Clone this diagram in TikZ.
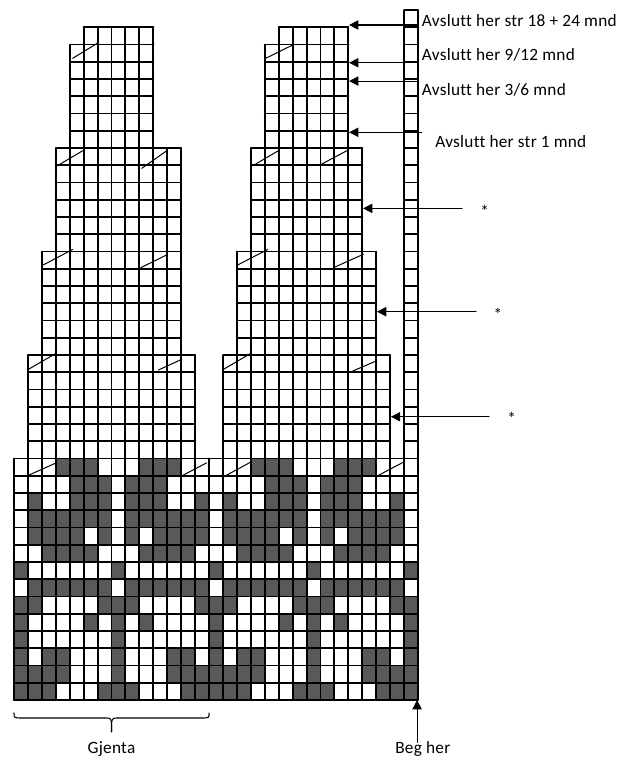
\documentclass[tikz,border=0pt]{standalone}
\usepackage{fontspec}
\setmainfont{Carlito}[Ligatures=NoCommon,LetterSpace=1.5]
\usetikzlibrary{arrows.meta}
\definecolor{strikkmork}{gray}{0.35}
\tikzset{
	rute/.style={line width=1.45pt},
	felling/.style={line width=0.75pt},
	pil/.style={line width=0.8pt,-{Triangle[length=7pt,width=7pt]}},
	tekst/.style={anchor=base west,inner sep=0pt},
}

\begin{document}
\begin{tikzpicture}[xscale=0.3686, yscale=0.4564, font=\fontsize{13}{15}\selectfont, line join=round, line cap=round]
	\useasboundingbox (-1.005,-3.36) rectangle (43.86,40.58);
	\begin{scope}
		\clip (0,0) rectangle (29,14);
		\foreach \y/\cols in {13/{3,4,5,9,10,11}, 12/{4,5,6,8,9,10}, 11/{1,4,5,6,8,9,10,13},
			10/{1,2,3,4,5,6,8,9,10,11,12,13}, 9/{1,2,3,4,6,8,10,11,12,13}, 8/{2,3,4,5,9,10,11,12},
			7/{0,7}, 6/{1,2,3,4,5,6,8,9,10,11,12,13}, 5/{0,1,6,7,8,13}, 4/{0,5,7,9},
			3/{0,7}, 2/{0,2,3,7,11,12}, 1/{0,1,2,3,7,11,12,13}, 0/{0,1,2,6,7,8,12,13}}
			\foreach \c in \cols
				\foreach \k in {0,14,28}
					\fill[strikkmork] (\c+\k,\y) rectangle ++(1,1);
	\end{scope}
	\draw[rute] (0,0) grid (29,14);
	\draw[rute] (1,14) grid (13,20);
	\draw[rute] (15,14) grid (27,20);
	\draw[rute] (2,20) grid (12,26);
	\draw[rute] (16,20) grid (26,26);
	\draw[rute] (3,26) grid (12,32);
	\draw[rute] (17,26) grid (25,32);
	\draw[rute] (4,32) grid (10,38);
	\draw[rute] (18,32) grid (24,38);
	\draw[rute] (5,38) grid (10,39);
	\draw[rute] (19,38) grid (24,39);
	\draw[rute] (28,14) grid (29,40);
	\foreach \xa/\ya/\xb/\yb in {1.1/13.05/2.95/13.72, 12.15/13.04/13.83/13.75, 14.95/12.9/16.94/13.77, 26.1/13.0/27.88/13.76,
		0.95/19.13/3.02/20.1, 10.36/19.13/12.04/19.75, 14.95/19.13/17.01/20.1, 24.31/19.07/26.04/19.67,
		2.1/25.22/4.21/26.12, 9.1/25.06/10.96/25.8, 16.06/25.22/18.21/26.12, 22.92/25.06/25.08/25.84,
		3.11/30.97/4.93/31.84, 9.17/30.82/10.96/31.84, 17.14/30.97/18.97/31.84, 22.09/31.07/23.88/31.84,
		4.21/37.2/5.98/38.07, 18.07/37.2/20.0/37.97}
		\draw[felling] (\xa,\ya) -- (\xb,\yb);
	\node[tekst] (avslutt1) at (29.26,39.03) {Avslutt her str 18 + 24 mnd};
	\node[tekst] (avslutt2) at (29.26,37.06) {Avslutt her 9/12 mnd};
	\node[tekst] (avslutt3) at (29.26,35.07) {Avslutt her 3/6 mnd};
	\node[tekst] (avslutt4) at (30.22,32.04) {Avslutt her str 1 mnd};
	\coordinate (fra1) at (29,39.13);
	\coordinate (til1) at (24.05,39.13);
	\coordinate (fra2) at (27.95,36.94);
	\coordinate (til2) at (24.05,36.94);
	\coordinate (fra3) at (28.95,35.88);
	\coordinate (til3) at (24.05,35.88);
	\coordinate (fra4) at (29.27,32.91);
	\coordinate (til4) at (24.05,32.91);
	\draw[pil] (fra1) -- (til1);
	\draw[pil] (fra2) -- (til2);
	\draw[pil] (fra3) -- (til3);
	\draw[pil] (fra4) -- (til4);
	\node[tekst] (stjerne1) at (33.45,28.0) {*};
	\node[tekst] (stjerne2) at (34.4,22.0) {*};
	\node[tekst] (stjerne3) at (35.4,15.95) {*};
	\coordinate (fra5) at (32.16,28.5);
	\coordinate (til5) at (25.05,28.5);
	\coordinate (fra6) at (33.17,22.51);
	\coordinate (til6) at (26.05,22.51);
	\coordinate (fra7) at (34.1,16.42);
	\coordinate (til7) at (27.05,16.42);
	\draw[pil] (fra5) -- (til5);
	\draw[pil] (fra6) -- (til6);
	\draw[pil] (fra7) -- (til7);
	\draw[line width=0.8pt] (0,-0.75) .. controls (0,-1.02) .. (0.35,-1.04) -- (6.65,-1.04) .. controls (7,-1.06) .. (7,-1.84);
	\draw[line width=0.8pt] (14,-0.75) .. controls (14,-1.02) .. (13.65,-1.04) -- (7.35,-1.04) .. controls (7,-1.06) .. (7,-1.84);
	\node[anchor=base,inner sep=0pt] (gjenta) at (7,-3.1) {Gjenta};
	\coordinate (start) at (28.93,-2.45);
	\coordinate (bunn) at (28.93,0);
	\draw[pil] (start) -- (bunn);
	\node[tekst] (beg) at (27.35,-3.1) {Beg her};
\end{tikzpicture}
\end{document}
